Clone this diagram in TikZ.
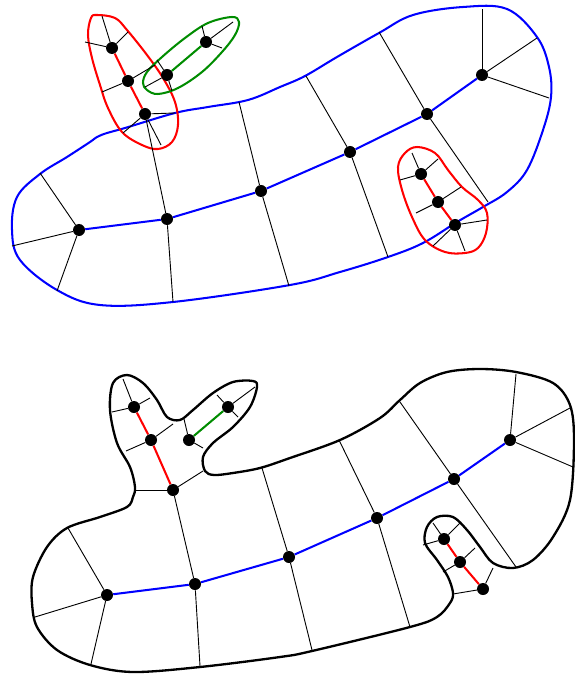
\documentclass[tikz,border=0pt]{standalone}
\usepackage{tikz}
\usetikzlibrary{calc}
\usepackage{xcolor}
\definecolor{hookgreen}{RGB}{0,140,0}
\tikzset{
  vdot/.style={circle, fill=black, inner sep=0pt, minimum size=0.3cm},
  spoke/.style={line width=0.65pt},
  spine/.style={line width=1.45pt},
  rim/.style={line width=1.45pt, line join=round},
}

\begin{document}
\begin{tikzpicture}[x=0.025cm,y=-0.025cm]
  \useasboundingbox (0,0) rectangle (574,675);

  % outlines, upper picture
  \draw[rim, blue] plot[smooth cycle, tension=0.6] coordinates {
    (97,137) (107,133) (125,128) (175,113) (208,107) (248,100) (280,87) (305,76) (337,57)
    (379,33) (413,15) (463,7) (507,9) (537,37) (549,67) (551,97) (543,130)
    (527,170) (507,192) (483,207) (457,222) (423,243) (388,257) (340,272)
    (290,285) (173,302) (100,305) (57,290) (20,260) (12,230) (17,197)
    (40,174) (67,157) (90,142)};
  \draw[rim, red] plot[smooth cycle, tension=0.6] coordinates {
    (97,15) (115,18) (127,30) (147,55) (163,78) (175,102) (178,125) (172,142)
    (158,149) (142,145) (122,132) (108,108) (100,85) (92,58) (88,35) (91,18)};
  \draw[rim, hookgreen] plot[smooth cycle, tension=0.6] coordinates {
    (143,83) (147,72) (162,57) (185,38) (208,23) (232,17) (239,22) (235,35)
    (222,52) (202,72) (178,88) (158,94) (147,90)};
  \draw[rim, red] plot[smooth cycle, tension=0.6] coordinates {
    (417,147) (435,153) (448,170) (462,187) (478,200) (487,213) (486,233)
    (478,248) (465,253) (445,252) (425,240) (412,217) (402,190) (398,167)
    (405,153)};

  % outline, lower picture
  \draw[rim, line width=1.65pt] plot[smooth cycle, tension=0.55] coordinates {
    (135,487) (130,467) (117,443) (110,410) (113,383) (127,375) (143,383)
    (157,400) (167,417) (180,420) (193,410) (213,393) (233,382) (253,381)
    (257,387) (250,407) (233,427) (213,443) (203,457) (205,471) (214,475)
    (233,473) (260,468) (290,458) (340,440) (380,418) (400,400) (420,383)
    (447,372) (480,369) (516,372) (553,383) (570,405) (574,440) (570,500)
    (553,537) (533,560) (513,568) (493,563) (480,547) (467,530) (453,517)
    (437,517) (427,527) (425,543) (437,560) (448,577) (453,593) (450,603)
    (437,617) (410,627) (312,651) (280,657) (200,667) (133,672) (90,665)
    (57,650) (37,627) (32,603) (33,577) (47,547) (67,528) (100,517)
    (127,507) (133,497)};

  % vertices, upper picture
  \node[vdot] (a1) at (79,230) {};
  \node[vdot] (a2) at (167,219) {};
  \node[vdot] (a3) at (261,191) {};
  \node[vdot] (a4) at (350,152) {};
  \node[vdot] (a5) at (427,114) {};
  \node[vdot] (a6) at (482,75) {};
  \node[vdot] (r1) at (112,48) {};
  \node[vdot] (r2) at (128,81) {};
  \node[vdot] (r3) at (145,114) {};
  \node[vdot] (g1) at (167,75) {};
  \node[vdot] (g2) at (206,42) {};
  \node[vdot] (s1) at (421,174) {};
  \node[vdot] (s2) at (438,202) {};
  \node[vdot] (s3) at (455,225) {};

  % vertices, lower picture
  \node[vdot] (b1) at (107,595) {};
  \node[vdot] (b2) at (195,584) {};
  \node[vdot] (b3) at (289,557) {};
  \node[vdot] (b4) at (377,518) {};
  \node[vdot] (b5) at (454,479) {};
  \node[vdot] (b6) at (510,440) {};
  \node[vdot] (c1) at (134,407) {};
  \node[vdot] (c2) at (151,440) {};
  \node[vdot] (c3) at (173,490) {};
  \node[vdot] (d1) at (189,440) {};
  \node[vdot] (d2) at (228,407) {};
  \node[vdot] (e1) at (444,539) {};
  \node[vdot] (e2) at (460,562) {};
  \node[vdot] (e3) at (483,589) {};

  % free ends of the spokes
  \coordinate (a1p) at (40,173); \coordinate (a1q) at (12,246); \coordinate (a1r) at (57,291);
  \coordinate (a2p) at (173,302);
  \coordinate (a3p) at (239,102); \coordinate (a3q) at (289,286);
  \coordinate (a4p) at (306,76);  \coordinate (a4q) at (388,257);
  \coordinate (a5p) at (379,32);  \coordinate (a5q) at (488,202);
  \coordinate (a6p) at (482,9);   \coordinate (a6q) at (537,38);  \coordinate (a6r) at (549,98);
  \coordinate (r1p) at (102,16);  \coordinate (r1q) at (128,32);  \coordinate (r1r) at (85,42);
  \coordinate (r2p) at (102,92);  \coordinate (r2q) at (155,65);
  \coordinate (r3p) at (175,113); \coordinate (r3q) at (123,133); \coordinate (r3r) at (161,145);
  \coordinate (g1p) at (157,60);  \coordinate (g1q) at (145,87);  \coordinate (g1r) at (172,91);
  \coordinate (g2p) at (233,22);  \coordinate (g2q) at (202,26);  \coordinate (g2r) at (222,48);
  \coordinate (s1p) at (412,153); \coordinate (s1q) at (438,159); \coordinate (s1r) at (400,180);
  \coordinate (s2p) at (416,213); \coordinate (s2q) at (461,187);
  \coordinate (s3p) at (487,220); \coordinate (s3q) at (433,246); \coordinate (s3r) at (465,251);

  \coordinate (b1p) at (68,528);  \coordinate (b1q) at (35,617);  \coordinate (b1r) at (91,664);
  \coordinate (b2p) at (200,666);
  \coordinate (b3p) at (262,468); \coordinate (b3q) at (312,650);
  \coordinate (b4p) at (339,440); \coordinate (b4q) at (410,627);
  \coordinate (b5p) at (400,402); \coordinate (b5q) at (516,567);
  \coordinate (b6p) at (516,374); \coordinate (b6q) at (570,408); \coordinate (b6r) at (573,467);
  \coordinate (c1p) at (123,379); \coordinate (c1q) at (150,398); \coordinate (c1r) at (112,412);
  \coordinate (c2p) at (126,451); \coordinate (c2q) at (173,424);
  \coordinate (c3p) at (135,490); \coordinate (c3q) at (203,471);
  \coordinate (d1p) at (184,419); \coordinate (d1q) at (203,448);
  \coordinate (d2p) at (217,395); \coordinate (d2q) at (255,387); \coordinate (d2r) at (238,417);
  \coordinate (e1p) at (433,523); \coordinate (e1q) at (460,523); \coordinate (e1r) at (423,545);
  \coordinate (e2p) at (443,572); \coordinate (e2q) at (475,548);
  \coordinate (e3p) at (453,594); \coordinate (e3q) at (493,568);

  % spokes
  \foreach \v/\w in {a1/a1p, a1/a1q, a1/a1r, a2/a2p, a2/r3, a3/a3p, a3/a3q,
      a4/a4p, a4/a4q, a5/a5p, a5/a5q, a6/a6p, a6/a6q, a6/a6r,
      r1/r1p, r1/r1q, r1/r1r, r2/r2p, r2/r2q, r3/r3p, r3/r3q, r3/r3r,
      g1/g1p, g1/g1q, g1/g1r, g2/g2p, g2/g2q, g2/g2r,
      s1/s1p, s1/s1q, s1/s1r, s2/s2p, s2/s2q, s3/s3p, s3/s3q, s3/s3r}
    \draw[spoke] (\v) -- (\w);
  \foreach \v/\w in {b1/b1p, b1/b1q, b1/b1r, b2/b2p, b2/c3, b3/b3p, b3/b3q,
      b4/b4p, b4/b4q, b5/b5p, b5/b5q, b6/b6p, b6/b6q, b6/b6r,
      c1/c1p, c1/c1q, c1/c1r, c2/c2p, c2/c2q, c3/c3p, c3/c3q,
      d1/d1p, d1/d1q, d2/d2p, d2/d2q, d2/d2r,
      e1/e1p, e1/e1q, e1/e1r, e2/e2p, e2/e2q, e3/e3p, e3/e3q}
    \draw[spoke] (\v) -- (\w);

  % spines
  \draw[spine, blue] (a1) -- (a2) -- (a3) -- (a4) -- (a5) -- (a6);
  \draw[spine, red] (r1) -- (r2) -- (r3);
  \draw[spine, hookgreen] (g1) -- (g2);
  \draw[spine, red] (s1) -- (s2) -- (s3);
  \draw[spine, blue] (b1) -- (b2) -- (b3) -- (b4) -- (b5) -- (b6);
  \draw[spine, red] (c1) -- (c2) -- (c3);
  \draw[spine, hookgreen] (d1) -- (d2);
  \draw[spine, red] (e1) -- (e2) -- (e3);
\end{tikzpicture}
\end{document}
